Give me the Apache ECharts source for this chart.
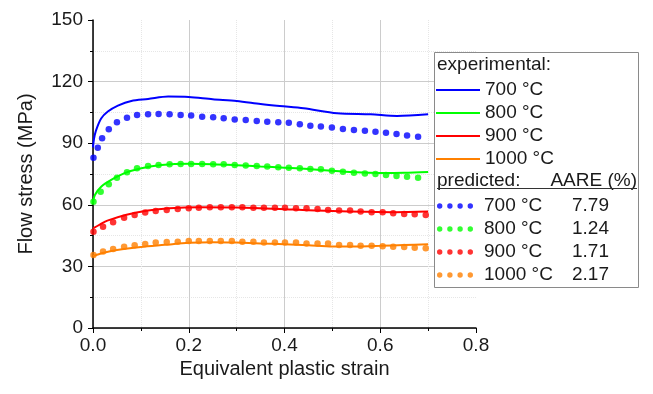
<!DOCTYPE html>
<html>
<head>
<meta charset="utf-8">
<script src="https://cdn.jsdelivr.net/npm/echarts@6/dist/echarts.min.js"></script>
<style>
  html, body { margin: 0; padding: 0; background: #fff; }
  #main { width: 653px; height: 394px; }
</style>
</head>
<body>
<div id="main"></div>
<script>
// experimental curves
let exp700Strain = [0, 0.002, 0.006, 0.017, 0.031, 0.052, 0.08, 0.115, 0.157, 0.2, 0.25, 0.3, 0.35, 0.39, 0.44, 0.51, 0.58, 0.635, 0.70];
let exp700Stress = [88, 92, 96, 102, 105.4, 108.3, 110.6, 111.5, 112.7, 112.5, 111.4, 110.6, 109.1, 108.1, 107, 104.6, 104.1, 103.3, 104.1];
let exp800Strain = [0, 0.004, 0.017, 0.038, 0.066, 0.101, 0.143, 0.2, 0.25, 0.3, 0.35, 0.4, 0.45, 0.5, 0.55, 0.6, 0.65, 0.7];
let exp800Stress = [60.7, 64.8, 68.8, 72.1, 75.4, 77.8, 79.4, 80, 79.8, 79.3, 78.7, 78.1, 77.4, 76.6, 75.8, 75.5, 75.6, 76];
let exp900Strain = [0, 0.015, 0.03, 0.07, 0.115, 0.16, 0.22, 0.3, 0.39, 0.45, 0.5, 0.57, 0.63, 0.7];
let exp900Stress = [48.5, 50.5, 52.3, 55.2, 57.2, 58.3, 58.8, 58.7, 58, 57.3, 57, 56.6, 56.4, 56.7];
let exp1000Strain = [0, 0.02, 0.05, 0.1, 0.15, 0.2, 0.25, 0.3, 0.35, 0.4, 0.45, 0.5, 0.55, 0.6, 0.65, 0.7];
let exp1000Stress = [35, 36.5, 38, 39.5, 40.5, 41.5, 41.8, 41.6, 41.2, 40.8, 40.3, 39.7, 39.7, 40, 40.4, 40.8];

// predicted points
let pred700Strain = [0.001, 0.010, 0.019, 0.033, 0.050, 0.071, 0.092, 0.115, 0.137, 0.160, 0.183, 0.205, 0.228, 0.251, 0.273, 0.296, 0.319, 0.342, 0.364, 0.387, 0.409, 0.432, 0.454, 0.476, 0.499, 0.522, 0.545, 0.568, 0.590, 0.612, 0.634, 0.656, 0.679];
let pred700Stress = [82.9, 87.8, 92.4, 96.8, 100.2, 102.4, 103.7, 104.1, 104.2, 104.1, 103.7, 103.5, 102.9, 102.6, 102.1, 101.6, 101.3, 100.8, 100.5, 100.2, 100.0, 99.2, 98.5, 98.1, 97.6, 96.9, 96.4, 96.1, 95.6, 95.1, 94.5, 93.7, 93.2];
let pred800Strain = [0.001, 0.016, 0.033, 0.050, 0.071, 0.092, 0.115, 0.137, 0.160, 0.183, 0.205, 0.228, 0.251, 0.273, 0.296, 0.319, 0.342, 0.364, 0.387, 0.409, 0.432, 0.454, 0.476, 0.499, 0.522, 0.545, 0.568, 0.590, 0.612, 0.634, 0.656, 0.679];
let pred800Stress = [61.5, 66.4, 70, 73.2, 75.8, 77.8, 78.9, 79.4, 79.7, 79.9, 79.9, 79.9, 79.7, 79.7, 79.4, 79.1, 78.9, 78.6, 78.3, 78.1, 77.8, 77.4, 77.3, 76.6, 76.1, 75.6, 75.3, 75.0, 74.5, 74.0, 73.7, 73.2];
let predHotStrain = [0.001, 0.021, 0.042, 0.065, 0.087, 0.109, 0.131, 0.154, 0.177, 0.200, 0.221, 0.244, 0.267, 0.290, 0.312, 0.335, 0.357, 0.380, 0.401, 0.424, 0.446, 0.469, 0.491, 0.514, 0.537, 0.559, 0.582, 0.605, 0.627, 0.650, 0.672, 0.695];
let pred900Stress = [46.9, 49.3, 51.5, 53.7, 55.0, 56.2, 57.0, 57.5, 58.0, 58.3, 58.6, 58.8, 58.8, 58.8, 58.8, 58.6, 58.6, 58.6, 58.6, 58.3, 58.3, 58.0, 57.5, 57.2, 57.2, 56.7, 56.4, 56.4, 55.9, 55.5, 55.4, 55.0];
let pred1000Stress = [35.5, 37.2, 38.5, 39.6, 40.3, 40.9, 41.6, 41.9, 42.0, 42.4, 42.4, 42.4, 42.4, 42.4, 42.0, 42.0, 41.7, 41.7, 41.6, 41.6, 41.2, 41.2, 41.2, 40.4, 40.4, 40.1, 40.1, 39.8, 39.6, 39.4, 39.1, 38.8];

let temps = ['700 °C', '800 °C', '900 °C', '1000 °C'];
let aare = ['7.79', '1.24', '1.71', '2.17'];
let colors = ['#0000ff', '#00ff00', '#ff0000', '#ff8000'];

let font = '"Liberation Sans", Arial, sans-serif';
let txt = '#1a1a1a';

function pairs(xs, ys) {
    return xs.map((x, i) => [x, ys[i]]);
}

let expData = [
    pairs(exp700Strain, exp700Stress),
    pairs(exp800Strain, exp800Stress),
    pairs(exp900Strain, exp900Stress),
    pairs(exp1000Strain, exp1000Stress)
];
let predData = [
    pairs(pred700Strain, pred700Stress),
    pairs(pred800Strain, pred800Stress),
    pairs(predHotStrain, pred900Stress),
    pairs(predHotStrain, pred1000Stress)
];

let series = [];
temps.forEach((t, i) => {
    series.push({
        name: 'exp' + i,
        type: 'line',
        data: expData[i],
        symbol: 'none',
        smooth: 0.3,
        color: colors[i],
        lineStyle: { width: 2, color: colors[i] },
        z: 2
    });
});
temps.forEach((t, i) => {
    series.push({
        name: 'pred' + i,
        type: 'scatter',
        data: predData[i],
        symbol: 'circle',
        symbolSize: 6.5,
        itemStyle: { color: colors[i] },
        z: 3
    });
});

// four dots for the predicted legend sample
let dots = 'path://M0,3a3,3 0 1,0 6,0a3,3 0 1,0 -6,0ZM11.33,3a3,3 0 1,0 6,0a3,3 0 1,0 -6,0ZM22.67,3a3,3 0 1,0 6,0a3,3 0 1,0 -6,0ZM34,3a3,3 0 1,0 6,0a3,3 0 1,0 -6,0Z';

let myChart = echarts.init(document.getElementById('main'));
let option = {
    backgroundColor: '#fff',
    animation: false,
    textStyle: { fontFamily: font },
    grid: { left: 93, right: 177, top: 20, bottom: 66 },
    xAxis: {
        type: 'value',
        min: 0, max: 0.8, interval: 0.2,
        name: 'Equivalent plastic strain',
        nameLocation: 'middle',
        nameGap: 30,
        nameTextStyle: { fontSize: 20, color: txt, fontFamily: font },
        axisLine: { lineStyle: { color: '#000', width: 1.5 } },
        axisTick: { show: true, length: 5, lineStyle: { color: '#000' } },
        minorTick: { show: true, splitNumber: 2, length: 3, lineStyle: { color: '#000' } },
        axisLabel: { fontSize: 19, color: txt, margin: 8, fontFamily: font, formatter: v => v.toFixed(1) },
        splitLine: { show: true, showMaxLine: false, lineStyle: { color: '#cccccc', width: 1 } },
        minorSplitLine: { show: true, lineStyle: { color: '#e6e6e6', type: 'dotted', width: 1 } }
    },
    yAxis: {
        type: 'value',
        min: 0, max: 150, interval: 30,
        name: 'Flow stress (MPa)',
        nameLocation: 'middle',
        nameGap: 57,
        nameTextStyle: { fontSize: 20, color: txt, fontFamily: font },
        axisLine: { show: true, lineStyle: { color: '#000', width: 1.5 } },
        axisTick: { show: true, length: 5, lineStyle: { color: '#000' } },
        minorTick: { show: true, splitNumber: 2, length: 3, lineStyle: { color: '#000' } },
        axisLabel: { fontSize: 19, color: txt, margin: 10, fontFamily: font },
        splitLine: { show: true, showMaxLine: false, lineStyle: { color: '#cccccc', width: 1 } },
        minorSplitLine: { show: true, lineStyle: { color: '#e6e6e6', type: 'dotted', width: 1 } }
    },
    legend: [
        {
            data: temps.map((t, i) => ({ name: 'exp' + i, icon: 'rect' })),
            orient: 'vertical',
            left: 436, top: 80,
            padding: 0,
            itemWidth: 44, itemHeight: 2, itemGap: 3,
            selectedMode: false,
            z: 20,
            formatter: name => temps[+name.slice(3)],
            textStyle: { fontSize: 19, lineHeight: 20, color: txt, fontFamily: font }
        },
        {
            data: temps.map((t, i) => ({ name: 'pred' + i, icon: dots })),
            orient: 'vertical',
            left: 437, top: 196,
            padding: 0,
            itemWidth: 36, itemHeight: 6, itemGap: 3,
            selectedMode: false,
            z: 20,
            formatter: name => {
                let i = +name.slice(4);
                return '{a|' + temps[i] + '}{b|' + aare[i] + '}';
            },
            textStyle: {
                fontSize: 19, lineHeight: 20, color: txt, fontFamily: font,
                padding: [0, 0, 0, 6],
                rich: {
                    a: { fontSize: 19, lineHeight: 20, width: 88, color: txt, fontFamily: font },
                    b: { fontSize: 19, lineHeight: 20, color: txt, fontFamily: font }
                }
            }
        }
    ],
    graphic: [
        {
            type: 'rect', z: 10,
            shape: { x: 434.5, y: 52.5, width: 204, height: 235 },
            style: { fill: '#fff', stroke: '#8a8a8a', lineWidth: 1 }
        },
        {
            type: 'text', z: 20, left: 437, top: 55,
            style: { text: 'experimental:', fontSize: 19, fontFamily: font, fill: txt }
        },
        {
            type: 'text', z: 20, left: 437, top: 171,
            style: { text: 'predicted:', fontSize: 19, fontFamily: font, fill: txt }
        },
        {
            type: 'text', z: 20, right: 16, top: 171,
            style: { text: 'AARE (%)', fontSize: 19, fontFamily: font, fill: txt }
        },
        {
            type: 'line', z: 20,
            shape: { x1: 437, y1: 188.5, x2: 637, y2: 188.5 },
            style: { stroke: '#333', lineWidth: 1 }
        }
    ],
    series: series
};
myChart.setOption(option);
</script>
</body>
</html>
